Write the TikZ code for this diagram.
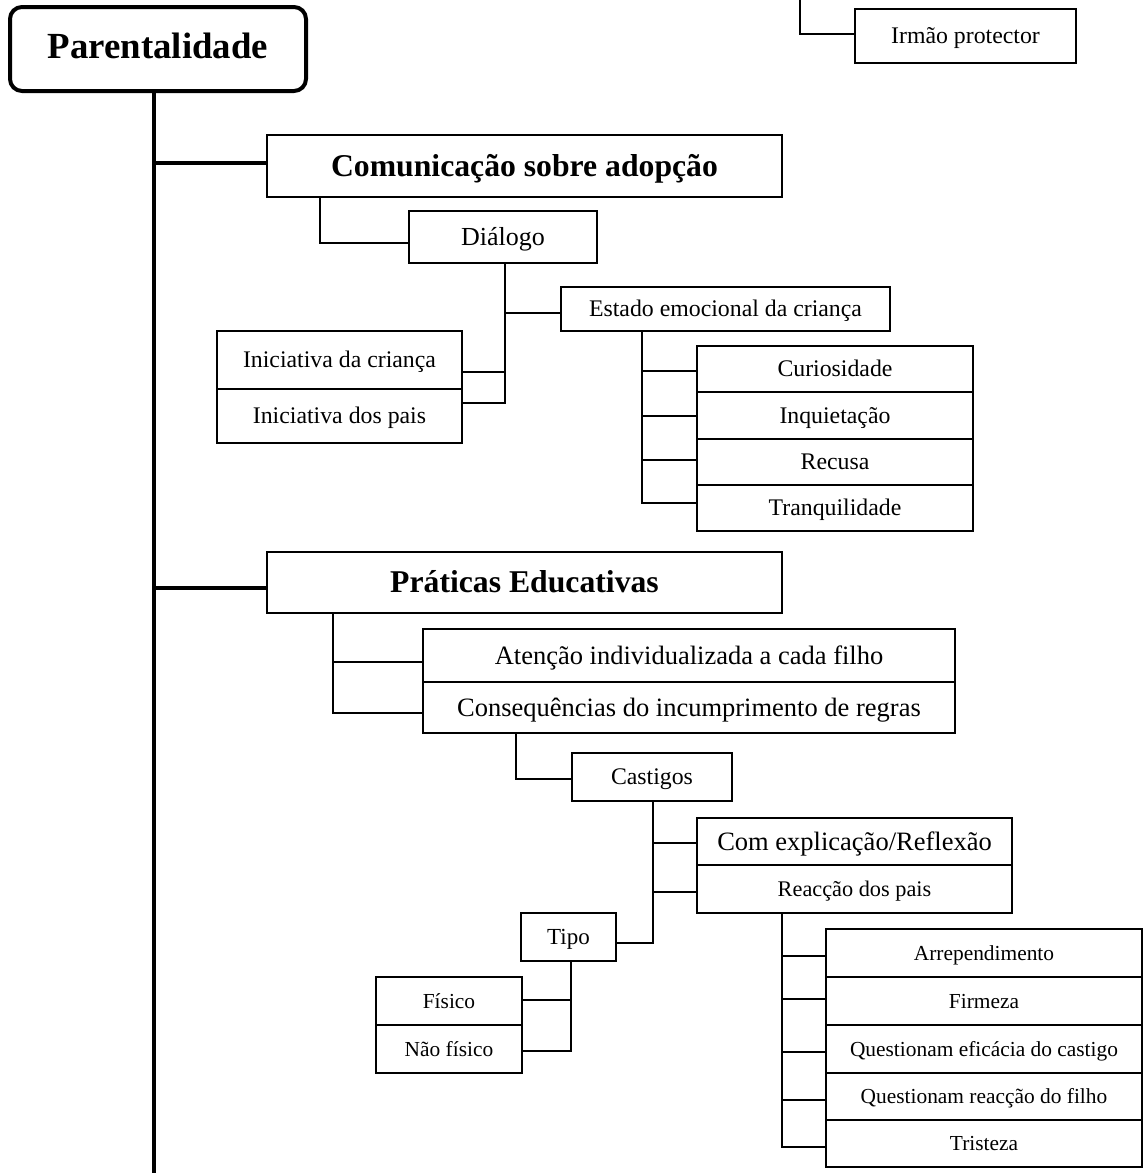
\documentclass[tikz,border=0pt]{standalone}
\usepackage{fontspec}
\setmainfont{Liberation Serif}
\usetikzlibrary{calc}

\tikzset{
  box/.style={draw, line width=1.8pt, inner sep=0pt, align=center, text depth=0pt},
  rootbox/.style={draw, line width=4pt, rounded corners=12pt, inner sep=0pt,
    text height=18.4pt, text depth=0pt,
    font=\bfseries\fontsize{36.8}{40}\selectfont},
  headbox/.style={box, text height=20.9pt, font=\bfseries\fontsize{31.7}{36}\selectfont},
  txtL/.style={text height=17.5pt, font=\fontsize{26.5}{30}\selectfont},
  txtD/.style={text height=17.2pt, font=\fontsize{26}{30}\selectfont},
  txtM/.style={text height=15.7pt, font=\fontsize{23.8}{28}\selectfont},
  txtT/.style={text height=15.2pt, font=\fontsize{23}{27}\selectfont},
  txtR/.style={text height=14.7pt, font=\fontsize{22.3}{26}\selectfont},
  txtS/.style={text height=14.1pt, font=\fontsize{21.4}{25}\selectfont},
  link/.style={line width=1.8pt},
  trunk/.style={line width=4.5pt},
}

\begin{document}
\begin{tikzpicture}[x=1pt, y=-1pt]
\useasboundingbox (0,0) rectangle (1144,1173);

% root and top-right item
\node[rootbox, minimum width=296pt, minimum height=84pt] (par) at (158,49) {Parentalidade};
\node[box, txtM, minimum width=221pt, minimum height=54pt] (irmao) at (965.5,36) {Irmão protector};
\coordinate (irtop) at (800,0);
\coordinate (bot) at (154,1173);

% communication branch
\node[headbox, minimum width=515pt, minimum height=62pt] (com) at (524.5,166) {Comunicação sobre adopção};
\node[box, txtD, minimum width=188pt, minimum height=52pt] (dia) at (503,237) {Diálogo};
\node[box, txtM, minimum width=329pt, minimum height=44pt] (est) at (725.5,309) {Estado emocional da criança};
\node[box, txtM, minimum width=245pt, minimum height=58pt] (ini1) at (339.5,360) {Iniciativa da criança};
\node[box, txtM, minimum width=245pt, minimum height=54pt] (ini2) at (339.5,416) {Iniciativa dos pais};
\node[box, txtM, minimum width=276pt, minimum height=46pt] (cur) at (835,369) {Curiosidade};
\node[box, txtM, minimum width=276pt, minimum height=47pt] (inq) at (835,415.5) {Inquietação};
\node[box, txtM, minimum width=276pt, minimum height=46pt] (rec) at (835,462) {Recusa};
\node[box, txtM, minimum width=276pt, minimum height=46pt] (tra) at (835,508) {Tranquilidade};

% educational practices branch
\node[headbox, minimum width=515pt, minimum height=61pt] (pra) at (524.5,582.5) {Práticas Educativas};
\node[box, txtL, minimum width=532pt, minimum height=53pt] (ate) at (689,655.5) {Atenção individualizada a cada filho};
\node[box, txtL, minimum width=532pt, minimum height=51pt] (con) at (689,707.5) {Consequências do incumprimento de regras};
\node[box, txtM, minimum width=160pt, minimum height=48pt] (cas) at (652,777) {Castigos};
\node[box, txtL, minimum width=315pt, minimum height=47pt] (cex) at (854.5,841.5) {Com explicação/Reflexão};
\node[box, txtR, minimum width=315pt, minimum height=48pt] (rea) at (854.5,889) {Reacção dos pais};
\node[box, txtT, minimum width=95pt, minimum height=48pt] (tip) at (568.5,937) {Tipo};
\node[box, txtS, minimum width=146pt, minimum height=48pt] (fis) at (449,1001) {Físico};
\node[box, txtS, minimum width=146pt, minimum height=48pt] (nfi) at (449,1049) {Não físico};
\node[box, txtS, minimum width=316pt, minimum height=48pt] (arr) at (984,953) {Arrependimento};
\node[box, txtS, minimum width=316pt, minimum height=48pt] (fir) at (984,1001) {Firmeza};
\node[box, txtS, minimum width=316pt, minimum height=48pt] (qef) at (984,1049) {Questionam eficácia do castigo};
\node[box, txtS, minimum width=316pt, minimum height=47pt] (qre) at (984,1096.5) {Questionam reacção do filho};
\node[box, txtS, minimum width=316pt, minimum height=47pt] (tri) at (984,1143.5) {Tristeza};

% main trunk and its branches
\draw[trunk] (par.south -| bot) -- (bot);
\draw[trunk] ($(com.west)+(0,-3)$) -- ($(com.west -| bot)+(0,-3)$);
\draw[trunk] ($(pra.west)+(0,5.5)$) -- ($(pra.west -| bot)+(0,5.5)$);

% top-right connector entering from above
\draw[link] (irtop) |- ($(irmao.west)+(0,-2)$);

% communication connectors
\draw[link] ($(com.south)+(-204.5,0)$) |- ($(dia.west)+(0,6)$);
\coordinate (dj) at ($(dia.south)+(2,0)$);
\draw[link] (dj) |- ($(est.west)+(0,4)$);
\draw[link] (dj) |- ($(ini1.east)+(0,12)$);
\draw[link] (dj) |- ($(ini2.east)+(0,-13)$);
\coordinate (ej) at ($(est.south)+(-83.5,0)$);
\draw[link] (ej) |- ($(cur.west)+(0,2)$);
\draw[link] (ej) |- ($(inq.west)+(0,0.5)$);
\draw[link] (ej) |- ($(rec.west)+(0,-2)$);
\draw[link] (ej) |- ($(tra.west)+(0,-5)$);

% practices connectors
\coordinate (pj) at ($(pra.south)+(-191.5,0)$);
\draw[link] (pj) |- ($(ate.west)+(0,6.5)$);
\draw[link] (pj) |- ($(con.west)+(0,5.5)$);
\draw[link] ($(con.south)+(-173,0)$) |- ($(cas.west)+(0,2)$);
\coordinate (cj) at ($(cas.south)+(1,0)$);
\draw[link] (cj) |- ($(cex.west)+(0,1.5)$);
\draw[link] (cj) |- ($(rea.west)+(0,3)$);
\draw[link] (cj) |- ($(tip.east)+(0,6)$);
\coordinate (tj) at ($(tip.south)+(2.5,0)$);
\draw[link] (tj) |- ($(fis.east)+(0,-1)$);
\draw[link] (tj) |- ($(nfi.east)+(0,2)$);
\coordinate (rj) at ($(rea.south)+(-72.5,0)$);
\draw[link] (rj) |- ($(arr.west)+(0,3)$);
\draw[link] (rj) |- ($(fir.west)+(0,-2)$);
\draw[link] (rj) |- ($(qef.west)+(0,3)$);
\draw[link] (rj) |- ($(qre.west)+(0,3.5)$);
\draw[link] (rj) |- ($(tri.west)+(0,3.5)$);
\end{tikzpicture}
\end{document}
